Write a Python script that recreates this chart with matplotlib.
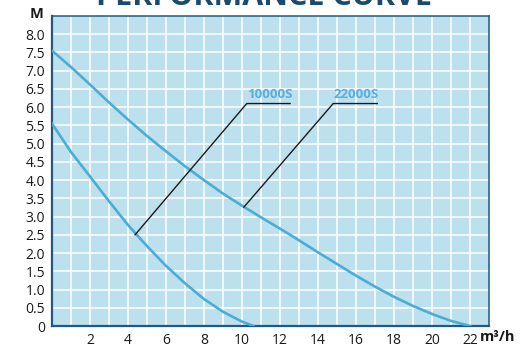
import matplotlib
matplotlib.use("Agg")
import matplotlib.pyplot as plt

# flow (m3/h) vs head (M)
flow_10000 = [0, 1, 2, 3, 4, 5, 6, 7, 8, 9, 10, 10.6]
head_10000 = [5.55, 4.77, 4.1, 3.42, 2.77, 2.19, 1.65, 1.17, 0.74, 0.39, 0.12, 0.0]

flow_22000 = [0, 1, 2, 3, 4, 5, 6, 7, 8, 9, 10, 11, 12, 13, 14, 15, 16, 17, 18, 19, 20, 21, 22]
head_22000 = [7.55, 7.1, 6.62, 6.13, 5.66, 5.21, 4.79, 4.38, 4.0, 3.63, 3.3, 2.98, 2.67,
              2.35, 2.02, 1.7, 1.38, 1.08, 0.8, 0.55, 0.33, 0.14, 0.0]

labels = ["10000S", "22000S"]
leader_10000 = ([4.37, 10.25, 12.53], [2.5, 6.1, 6.1])
leader_22000 = ([10.1, 14.8, 17.12], [3.26, 6.1, 6.1])

x_ticks = [2, 4, 6, 8, 10, 12, 14, 16, 18, 20, 22]
y_ticks = [0, 0.5, 1, 1.5, 2, 2.5, 3, 3.5, 4, 4.5, 5, 5.5, 6, 6.5, 7, 7.5, 8]
y_tick_labels = ["0"] + [f"{v:.1f}" for v in y_ticks[1:]]

plt.rcParams['font.family'] = ['Open Sans', 'DejaVu Sans']

curve_col = "#4badd4"
label_col = "#5aaddc"
spine_col = "#1d5a80"

fig = plt.figure(figsize=(5.29, 3.64), dpi=100)
ax = fig.add_axes([52 / 529, 38 / 364, 437 / 529, 310 / 364])
ax.set_facecolor("#bde0ef")

ax.set_xlim(0, 23)
ax.set_ylim(0, 8.5)

# grid: every 1 m3/h and every 0.5 M
for gx in range(1, 23):
    ax.axvline(gx, color="white", lw=1.1, zorder=1)
for gy in [v * 0.5 for v in range(1, 17)]:
    ax.axhline(gy, color="white", lw=1.1, zorder=1)

ax.plot(flow_10000, head_10000, color=curve_col, lw=1.9, zorder=3)
ax.plot(flow_22000, head_22000, color=curve_col, lw=1.9, zorder=3)

ax.plot(*leader_10000, color="#1a1a1a", lw=1.0, zorder=4)
ax.plot(*leader_22000, color="#1a1a1a", lw=1.0, zorder=4)
ax.text(leader_10000[0][1], 6.17, labels[0], color=label_col, fontsize=9.5,
        fontweight="bold", ha="left", va="bottom", zorder=5)
ax.text(leader_22000[0][1], 6.17, labels[1], color=label_col, fontsize=9.5,
        fontweight="bold", ha="left", va="bottom", zorder=5)

ax.set_xticks(x_ticks)
ax.set_xticklabels([str(v) for v in x_ticks])
ax.set_yticks(y_ticks)
ax.set_yticklabels(y_tick_labels)
ax.tick_params(length=0, labelsize=10, colors="#1a1a1a", pad=5)

for side in ["left", "bottom"]:
    ax.spines[side].set_color(spine_col)
    ax.spines[side].set_linewidth(1.6)
for side in ["top", "right"]:
    ax.spines[side].set_color(spine_col)
    ax.spines[side].set_linewidth(1.1)

fig.text(37 / 529, 1 - 14 / 364, "M", fontsize=10.5, fontweight="bold",
         ha="center", va="center", color="#1a1a1a")
fig.text(480 / 529, 1 - 337 / 364, "m³/h", fontsize=10.5, fontweight="bold",
         ha="left", va="center", color="#1a1a1a")

# title sits mostly above the top edge, as in the source crop
fig.text(0.5, 1 - 5 / 364, "PERFORMANCE CURVE", fontsize=22, fontweight="bold",
         ha="center", va="baseline", color="#1b4a6b")

fig.savefig("out.png", dpi=100)
